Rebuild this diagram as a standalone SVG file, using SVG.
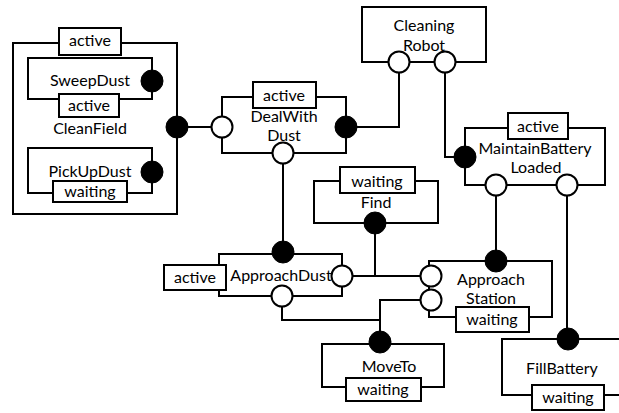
<svg xmlns="http://www.w3.org/2000/svg" width="619" height="413" viewBox="0 0 619 413">
<style>
.box{fill:#fff;stroke:#000;stroke-width:2}
.lbl{fill:#fff;stroke:#000;stroke-width:2}
.op{fill:#fff;stroke:#000;stroke-width:2}
.fp{fill:#000;stroke:#000;stroke-width:1}
.ln{fill:none;stroke:#000;stroke-width:2}
text{font-family:Lato,"Liberation Sans",Arial,sans-serif;font-size:16px;text-anchor:middle;fill:#000}
</style>
<rect width="619" height="413" fill="#fff"/>
<g id="connectors">
<path class="ln" d="M152,81 L177,127 M152,172 L177,127 M177,127 H222"/>
<path class="ln" d="M346,127 H399 V62"/>
<path class="ln" d="M445,62 V157 H465"/>
<path class="ln" d="M283,153 V251"/>
<path class="ln" d="M342,276 H431 M375,276 V223"/>
<path class="ln" d="M282,296 V320 H380 M421,300 H380 V342"/>
<path class="ln" d="M496,185 V261"/>
<path class="ln" d="M567,185 V338"/>
</g>
<g id="CleanField">
<rect class="box" x="13" y="43" width="164" height="171"/>
<rect class="lbl" x="59" y="28" width="62" height="27"/>
<text x="90" y="46">active</text>
<text x="90" y="134">CleanField</text>
<circle class="fp" cx="177" cy="127" r="11"/>
</g>
<g id="SweepDust">
<rect class="box" x="28" y="58" width="124" height="41"/>
<rect class="lbl" x="59" y="94" width="60" height="23"/>
<text x="90" y="86">SweepDust</text>
<text x="89" y="111">active</text>
<circle class="fp" cx="152" cy="81" r="11"/>
</g>
<g id="PickUpDust">
<rect class="box" x="28" y="148" width="124" height="45"/>
<rect class="lbl" x="53" y="181" width="74" height="21"/>
<text x="90" y="177">PickUpDust</text>
<text x="90" y="197">waiting</text>
<circle class="fp" cx="152" cy="172" r="11"/>
</g>
<g id="CleaningRobot">
<rect class="box" x="362" y="7" width="124" height="55"/>
<text x="424" y="31">Cleaning</text>
<text x="424" y="51">Robot</text>
<circle class="op" cx="399" cy="62" r="10.5"/>
<circle class="op" cx="445" cy="62" r="10.5"/>
</g>
<g id="DealWithDust">
<rect class="box" x="222" y="97" width="124" height="56"/>
<rect class="lbl" x="253" y="82" width="63" height="26"/>
<text x="284" y="101">active</text>
<text x="284" y="122">DealWith</text>
<text x="284" y="141">Dust</text>
<circle class="op" cx="222" cy="127" r="10.5"/>
<circle class="fp" cx="346" cy="127" r="11"/>
<circle class="op" cx="283" cy="153" r="10.5"/>
</g>
<g id="MaintainBatteryLoaded">
<rect class="box" x="465" y="128" width="140" height="57"/>
<rect class="lbl" x="508" y="113" width="60" height="26"/>
<text x="538" y="132">active</text>
<text x="535" y="154">MaintainBattery</text>
<text x="536" y="173">Loaded</text>
<circle class="fp" cx="465" cy="157" r="11"/>
<circle class="op" cx="496" cy="185" r="10.5"/>
<circle class="op" cx="567" cy="185" r="10.5"/>
</g>
<g id="Find">
<rect class="box" x="314" y="181" width="124" height="42"/>
<rect class="lbl" x="340" y="167" width="75" height="26"/>
<text x="377" y="187">waiting</text>
<text x="376" y="208">Find</text>
<circle class="fp" cx="375" cy="223" r="11"/>
</g>
<g id="ApproachDust">
<rect class="box" x="219" y="254" width="123" height="42"/>
<rect class="lbl" x="164" y="265" width="62" height="25"/>
<text x="195" y="283">active</text>
<text x="281" y="281">ApproachDust</text>
<circle class="fp" cx="283" cy="252" r="11"/>
<circle class="op" cx="342" cy="276" r="10.5"/>
<circle class="op" cx="282" cy="296" r="10.5"/>
</g>
<g id="ApproachStation">
<rect class="box" x="429" y="261" width="123" height="56"/>
<rect class="lbl" x="456" y="307" width="73" height="25"/>
<text x="491" y="285">Approach</text>
<text x="491" y="304">Station</text>
<text x="492" y="325">waiting</text>
<circle class="fp" cx="496" cy="261" r="11"/>
<circle class="op" cx="431" cy="276" r="10.5"/>
<circle class="op" cx="431" cy="300" r="10.5"/>
</g>
<g id="MoveTo">
<rect class="box" x="322" y="344" width="122" height="43"/>
<rect class="lbl" x="346" y="378" width="75" height="23"/>
<text x="389" y="372">MoveTo</text>
<text x="383" y="395">waiting</text>
<circle class="fp" cx="380" cy="342" r="11"/>
</g>
<g id="FillBattery">
<path class="ln" d="M625,339 H502 V395 H625"/>
<rect class="lbl" x="532" y="385" width="72" height="25"/>
<text x="562" y="374">FillBattery</text>
<text x="568" y="403">waiting</text>
<circle class="fp" cx="568" cy="339" r="11"/>
</g>
</svg>
